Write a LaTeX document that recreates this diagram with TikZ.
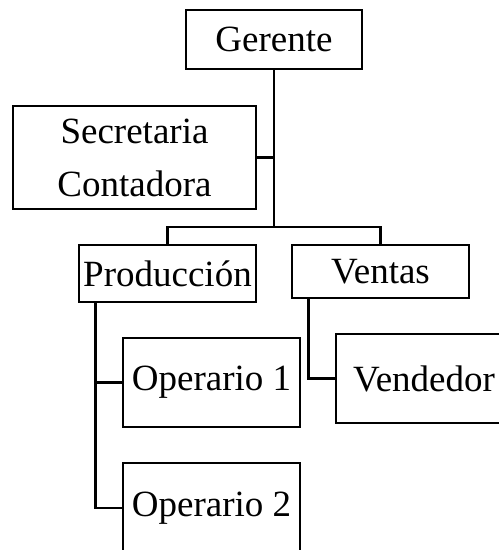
\documentclass[tikz,border=0pt]{standalone}
\usepackage{fontspec}
\setmainfont{Liberation Serif}
\usetikzlibrary{positioning}
\tikzset{
  puesto/.style={draw, line width=2.6pt, rectangle, inner sep=0pt, align=center,
    font=\fontsize{37}{53}\selectfont},
  linea/.style={line width=2.6pt}
}
\begin{document}
\begin{tikzpicture}[x=1pt, y=-1pt]
        \useasboundingbox (0,0) rectangle (499,550);
        \clip (0,0) rectangle (499,550);

        % Top
        \node[puesto, minimum width=176pt, minimum height=59pt] (ger) at (274,39.5) {Gerente};
        \node[puesto, minimum width=243pt, minimum height=103pt] (sec) at (134.5,157.5) {Secretaria\\Contadora};

        % Departments
        \node[puesto, minimum width=177pt, minimum height=57pt] (prod) at (167.5,273.5) {Producción};
        \node[puesto, minimum width=177pt, minimum height=53pt] (vent) at (380.5,271.5) {Ventas};

        % Staff
        \node[puesto, minimum width=177pt, minimum height=89pt] (op1) at (211.5,382.5) {Operario 1};
        \node[puesto, minimum width=177pt, minimum height=90pt] (op2) at (211.5,508) {Operario 2};
        \node[puesto, minimum width=176pt, minimum height=89pt] (vend) at (424,378.5) {Vendedor};

        % Connectors
        \coordinate (bar) at (274,227);
        \draw[linea] (ger.south) -- (bar);
        \draw[linea] (sec.east) -- (sec.east -| ger.south);
        \draw[linea] (prod.north) |- (bar) -| (vent.north);

        \coordinate (pstem) at ([xshift=18pt]prod.south west);
        \draw[linea] (pstem) |- (op1.west);
        \draw[linea] (pstem) |- (op2.west);

        \coordinate (vstem) at ([xshift=18pt]vent.south west);
        \draw[linea] (vstem) |- (vend.west);

\end{tikzpicture}
\end{document}
